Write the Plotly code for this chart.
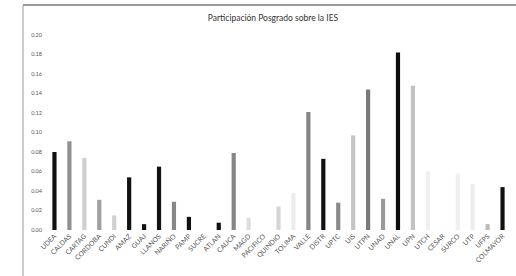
import plotly.graph_objects as go

categories = ["UDEA", "CALDAS", "CARTAG", "CORDOBA", "CUNDI", "AMAZ", "GUAJ", "LLANOS",
              "NARIÑO", "PAMP", "SUCRE", "ATLAN", "CAUCA", "MAGD", "PACIFICO", "QUINDIO",
              "TOLIMA", "VALLE", "DISTR", "UPTC", "UIS", "UTPN", "UNAD", "UNAL", "UPN",
              "UTCH", "CESAR", "SURCO", "UTP", "UFPS", "COLMAYOR"]
values = [0.080, 0.091, 0.074, 0.031, 0.015, 0.054, 0.006, 0.065,
          0.029, 0.0135, 0.0, 0.0075, 0.079, 0.0125, 0.0, 0.024,
          0.038, 0.121, 0.073, 0.028, 0.097, 0.144, 0.032, 0.182, 0.148,
          0.060, 0.0, 0.058, 0.047, 0.006, 0.044]
y_ticks = [0.00, 0.02, 0.04, 0.06, 0.08, 0.10, 0.12, 0.14, 0.16, 0.18, 0.20]
y_tick_text = ["0.00", "0.02", "0.04", "0.06", "0.08", "0.10", "0.12", "0.14", "0.16", "0.18", "0.20"]
title_text = "Participación Posgrado sobre la IES"

# styling (per-bar shade as seen in the scan)
bar_colors = ["#111111", "#8f8f8f", "#cfcfcf", "#a0a0a0", "#d0d0d0", "#111111", "#111111", "#111111",
              "#888888", "#111111", "#cccccc", "#111111", "#858585", "#dddddd", "#dddddd", "#d6d6d6",
              "#ececec", "#858585", "#111111", "#8a8a8a", "#c4c4c4", "#7a7a7a", "#9a9a9a", "#0d0d0d",
              "#c2c2c2", "#f0f0f0", "#f0f0f0", "#f0f0f0", "#ededed", "#bbbbbb", "#111111"]

fig = go.Figure(go.Bar(x=categories, y=values, hoverinfo="skip",
                       marker=dict(color=bar_colors, line=dict(width=0))))

L, R, T, B = 47, 6, 35, 46
W, H = 516, 276
pw, ph = W - L - R, H - T - B

fig.update_layout(
    width=W, height=H,
    margin=dict(l=L, r=R, t=T, b=B, pad=0),
    paper_bgcolor="white", plot_bgcolor="white",
    bargap=0.72,
    showlegend=False,
    hovermode=False,
    font=dict(family="Lato, 'Liberation Sans', sans-serif", color="#444"),
    title=dict(text=title_text, x=273 / W, xanchor="center", y=1 - 18 / H, yanchor="middle",
               font=dict(size=8.5, color="#333")),
    xaxis=dict(type="category", tickangle=-45, tickfont=dict(size=6.8, color="#555"),
               showline=False, ticks="", showgrid=False, zeroline=False, automargin=False),
    yaxis=dict(range=[0, 0.2], tickvals=y_ticks, ticktext=y_tick_text,
               tickfont=dict(size=5.5, color="#555"), showgrid=False, zeroline=False,
               showline=False, ticks="", ticklabelstandoff=4, automargin=False),
    shapes=[
        dict(type="line", xref="paper", yref="paper", layer="above",
             x0=(23 - L) / pw, x1=(W + 5 - L) / pw, y0=1 + (T - 5) / ph, y1=1 + (T - 5) / ph,
             line=dict(color="#777", width=1.5)),
        dict(type="line", xref="paper", yref="paper", layer="above",
             x0=(23 - L) / pw, x1=(23 - L) / pw, y0=1 + (T - 5) / ph, y1=-(B + 5) / ph,
             line=dict(color="#aaa", width=1.2)),
    ],
)

fig.write_html("out.html", config={"displayModeBar": False, "staticPlot": True},
               post_script="document.body.style.margin='0';document.body.style.overflow='hidden';")
